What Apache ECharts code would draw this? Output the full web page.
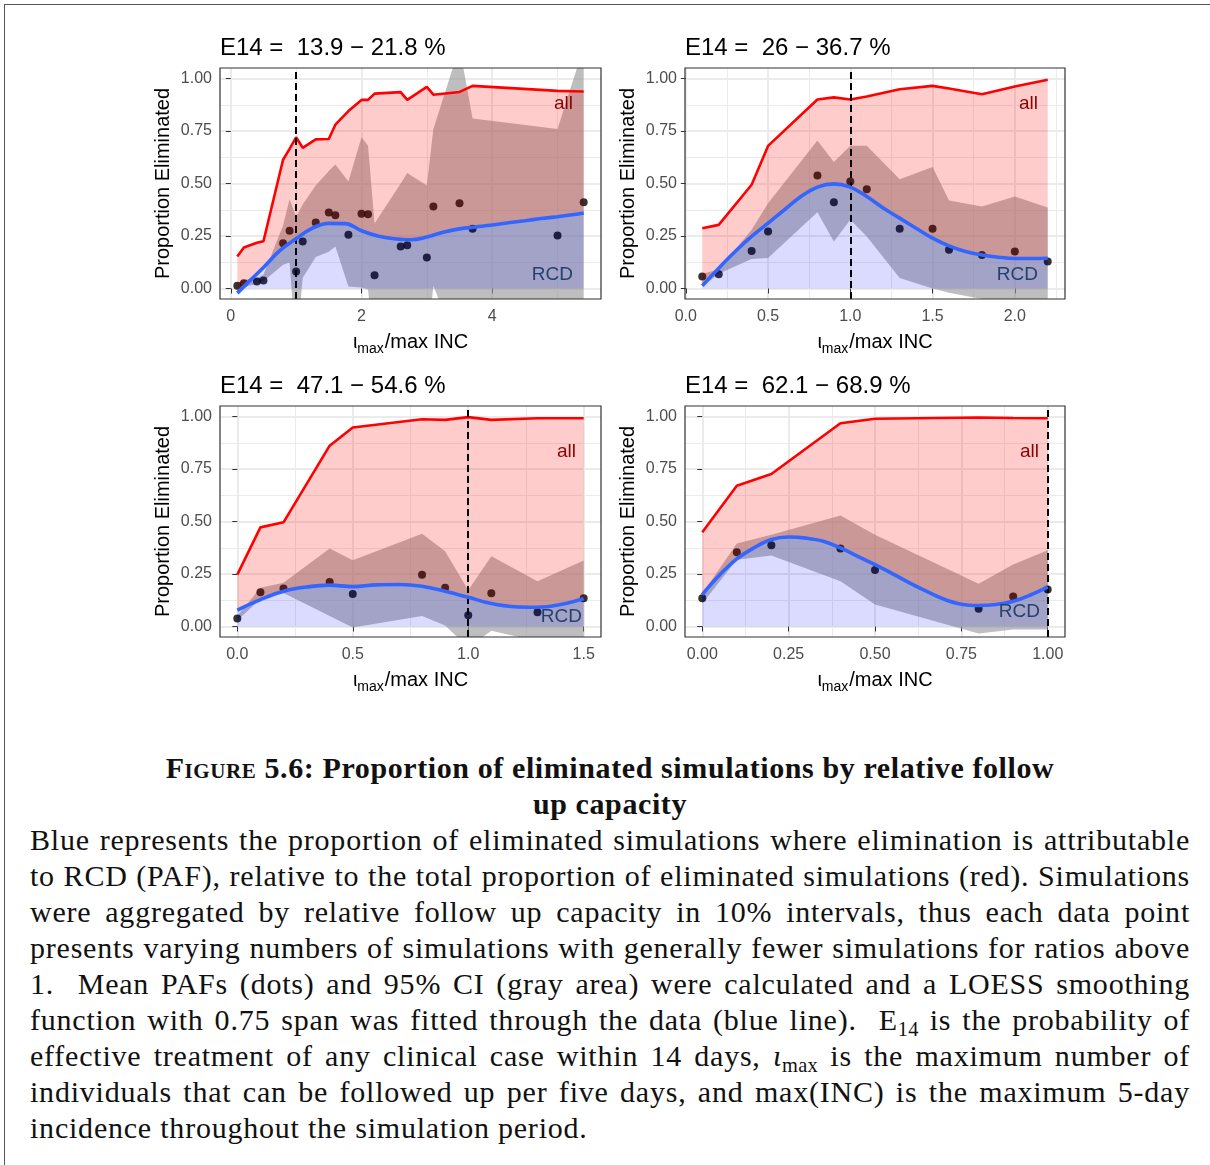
<!DOCTYPE html>
<html>
<head>
<meta charset="utf-8">
<script src="https://cdn.jsdelivr.net/npm/echarts@6/dist/echarts.min.js"></script>
<style>
  html, body { margin: 0; padding: 0; background: #fff; }
  #page { position: relative; width: 1210px; height: 1165px; overflow: hidden; }
  #frame { position: absolute; left: 4px; top: 4px; width: 1300px; height: 1300px;
           border-top: 1.5px solid #555; border-left: 1.5px solid #555; }
  #chart { position: absolute; left: 0; top: 0; width: 1210px; height: 720px; }
  #caption { position: absolute; left: 30px; top: 750px; width: 1160px;
             font-family: "Liberation Serif", "Times New Roman", serif; font-size: 30px;
             line-height: 36px; color: #111; letter-spacing: 0.78px; }
  #caption .ttl { text-align: center; font-weight: bold; letter-spacing: 0.6px; }
  #caption .sc { font-variant: small-caps; }
  #caption .jl { text-align: justify; text-align-last: justify; white-space: nowrap; }
  #caption .ll { text-align: left; white-space: nowrap; }
  #caption sub { font-size: 0.68em; vertical-align: -0.28em; line-height: 0; letter-spacing: 0.3px; }
</style>
</head>
<body>
<div id="page">
  <div id="frame"></div>
  <div id="chart"></div>
  <div id="caption">
    <div class="ttl"><span class="sc">Figure</span> 5.6: Proportion of eliminated simulations by relative follow</div>
    <div class="ttl">up capacity</div>
    <div class="jl">Blue represents the proportion of eliminated simulations where elimination is attributable</div>
    <div class="jl">to RCD (PAF), relative to the total proportion of eliminated simulations (red). Simulations</div>
    <div class="jl">were aggregated by relative follow up capacity in 10% intervals, thus each data point</div>
    <div class="jl">presents varying numbers of simulations with generally fewer simulations for ratios above</div>
    <div class="jl">1.&nbsp; Mean PAFs (dots) and 95% CI (gray area) were calculated and a LOESS smoothing</div>
    <div class="jl">function with 0.75 span was fitted through the data (blue line).&nbsp; E<sub>14</sub> is the probability of</div>
    <div class="jl">effective treatment of any clinical case within 14 days, <i>ι</i><sub>max</sub> is the maximum number of</div>
    <div class="jl">individuals that can be followed up per five days, and max(INC) is the maximum 5-day</div>
    <div class="ll">incidence throughout the simulation period.</div>
  </div>
</div>
<script>
// ---- Panel 1: E14 = 13.9 - 21.8 % ----
const p1Title = 'E14 =  13.9 − 21.8 %';
const p1Ratio = [0.1, 0.2, 0.4, 0.5, 0.8, 0.9, 1.0, 1.1, 1.3, 1.5, 1.6, 1.8, 2.0, 2.1, 2.2, 2.6, 2.7, 3.0, 3.1, 3.5, 3.7, 5.0, 5.4];
const p1All = [0.152, 0.195, 0.218, 0.225, 0.613, 0.665, 0.72, 0.67, 0.71, 0.712, 0.78, 0.845, 0.898, 0.898, 0.928, 0.935, 0.898, 0.96, 0.923, 0.936, 0.965, 0.941, 0.938];
const p1Paf = [0.013, 0.025, 0.033, 0.038, 0.216, 0.275, 0.081, 0.224, 0.314, 0.362, 0.349, 0.256, 0.356, 0.354, 0.063, 0.2, 0.206, 0.148, 0.39, 0.406, 0.284, 0.252, 0.411];
const p1CiLow = [0.0, 0.01, 0.02, 0.035, 0.113, 0.124, -0.3, 0.05, 0.15, 0.175, 0.2, 0.01, 0.005, -0.005, -0.3, -0.3, -0.3, -0.3, 0.013, -0.3, -0.3, -0.3, -0.3];
const p1CiHigh = [0.025, 0.04, 0.05, 0.065, 0.3, 0.425, 0.34, 0.4, 0.49, 0.56, 0.59, 0.51, 0.72, 0.68, 0.31, 0.5, 0.55, 0.49, 0.76, 1.15, 0.81, 0.76, 1.15];
const p1LoessX = [0.1, 0.3, 0.5, 0.75, 1.0, 1.25, 1.5, 1.75, 2.0, 2.25, 2.5, 2.75, 3.0, 3.25, 3.5, 3.75, 4.0, 4.25, 4.5, 4.75, 5.0, 5.25, 5.4];
const p1LoessY = [-0.022, 0.04, 0.1, 0.18, 0.237, 0.288, 0.31, 0.309, 0.275, 0.25, 0.237, 0.232, 0.245, 0.268, 0.284, 0.293, 0.302, 0.313, 0.323, 0.333, 0.342, 0.352, 0.36];
const p1XTicks = [0, 2, 4];

// ---- Panel 2: E14 = 26 - 36.7 % ----
const p2Title = 'E14 =  26 − 36.7 %';
const p2Ratio = [0.1, 0.2, 0.4, 0.5, 0.8, 0.9, 1.0, 1.1, 1.3, 1.5, 1.6, 1.8, 2.0, 2.2];
const p2All = [0.287, 0.303, 0.494, 0.679, 0.9, 0.91, 0.9, 0.914, 0.949, 0.965, 0.952, 0.925, 0.962, 0.994];
const p2Paf = [0.057, 0.068, 0.179, 0.271, 0.538, 0.411, 0.51, 0.473, 0.284, 0.284, 0.184, 0.16, 0.176, 0.129];
const p2CiLow = [0.01, 0.07, 0.14, 0.145, 0.363, 0.224, 0.327, 0.248, 0.05, 0.0, -0.02, -0.05, -0.07, -0.08];
const p2CiHigh = [0.07, 0.09, 0.28, 0.406, 0.705, 0.602, 0.68, 0.68, 0.52, 0.578, 0.419, 0.39, 0.438, 0.386];
const p2LoessX = [0.1, 0.2, 0.3, 0.4, 0.5, 0.6, 0.7, 0.8, 0.9, 1.0, 1.1, 1.2, 1.3, 1.4, 1.5, 1.6, 1.7, 1.8, 1.9, 2.0, 2.1, 2.2];
const p2LoessY = [0.013, 0.097, 0.176, 0.248, 0.311, 0.375, 0.438, 0.483, 0.498, 0.483, 0.438, 0.383, 0.335, 0.287, 0.24, 0.203, 0.176, 0.16, 0.149, 0.143, 0.143, 0.144];
const p2XTicks = [0, 0.5, 1, 1.5, 2];

// ---- Panel 3: E14 = 47.1 - 54.6 % ----
const p3Title = 'E14 =  47.1 − 54.6 %';
const p3Ratio = [0, 0.1, 0.2, 0.4, 0.5, 0.8, 0.9, 1.0, 1.1, 1.3, 1.5];
const p3All = [0.247, 0.472, 0.496, 0.861, 0.948, 0.987, 0.984, 0.997, 0.984, 0.992, 0.992];
const p3Paf = [0.038, 0.163, 0.181, 0.212, 0.155, 0.247, 0.184, 0.054, 0.158, 0.068, 0.135];
const p3CiLow = [0.03, 0.13, 0.16, 0.05, -0.005, 0.05, 0.005, -0.1, -0.02, -0.07, -0.07];
const p3CiHigh = [0.05, 0.184, 0.208, 0.371, 0.315, 0.442, 0.358, 0.173, 0.334, 0.216, 0.314];
const p3LoessX = [0, 0.1, 0.2, 0.3, 0.4, 0.5, 0.6, 0.7, 0.8, 0.9, 1.0, 1.1, 1.2, 1.3, 1.4, 1.5];
const p3LoessY = [0.078, 0.128, 0.168, 0.188, 0.197, 0.19, 0.198, 0.2, 0.192, 0.168, 0.139, 0.109, 0.094, 0.092, 0.105, 0.132];
const p3XTicks = [0, 0.5, 1, 1.5];

// ---- Panel 4: E14 = 62.1 - 68.9 % ----
const p4Title = 'E14 =  62.1 − 68.9 %';
const p4Ratio = [0, 0.1, 0.2, 0.4, 0.5, 0.8, 0.9, 1.0];
const p4All = [0.449, 0.67, 0.726, 0.968, 0.989, 0.995, 0.993, 0.992];
const p4Paf = [0.135, 0.353, 0.387, 0.371, 0.269, 0.084, 0.143, 0.176];
const p4CiLow = [0.11, 0.318, 0.338, 0.216, 0.105, -0.033, -0.014, -0.014];
const p4CiHigh = [0.157, 0.395, 0.437, 0.528, 0.437, 0.203, 0.295, 0.363];
const p4LoessX = [0, 0.05, 0.1, 0.15, 0.2, 0.25, 0.3, 0.35, 0.4, 0.45, 0.5, 0.55, 0.6, 0.65, 0.7, 0.75, 0.8, 0.85, 0.9, 0.95, 1.0];
const p4LoessY = [0.152, 0.245, 0.322, 0.375, 0.414, 0.426, 0.421, 0.406, 0.374, 0.334, 0.295, 0.252, 0.208, 0.167, 0.13, 0.106, 0.1, 0.105, 0.12, 0.15, 0.189];
const p4XTicks = [0, 0.25, 0.5, 0.75, 1];

// shared y ticks and the capacity ratio of 1 (dashed reference)
const yTicks = [0, 0.25, 0.5, 0.75, 1];
const refRatio = 1;

const panels = [
  { title: p1Title, ratio: p1Ratio, all: p1All, paf: p1Paf, lo: p1CiLow, hi: p1CiHigh, lx: p1LoessX, ly: p1LoessY, ticks: p1XTicks, dec: 0,
    box: { left: 220, top: 68, width: 381, height: 231 }, allPos: [573, 104], rcdPos: [573, 275] },
  { title: p2Title, ratio: p2Ratio, all: p2All, paf: p2Paf, lo: p2CiLow, hi: p2CiHigh, lx: p2LoessX, ly: p2LoessY, ticks: p2XTicks, dec: 1,
    box: { left: 685, top: 68, width: 380, height: 231 }, allPos: [1038, 104], rcdPos: [1038, 275] },
  { title: p3Title, ratio: p3Ratio, all: p3All, paf: p3Paf, lo: p3CiLow, hi: p3CiHigh, lx: p3LoessX, ly: p3LoessY, ticks: p3XTicks, dec: 1,
    box: { left: 220, top: 406, width: 381, height: 231 }, allPos: [576, 452], rcdPos: [582, 617] },
  { title: p4Title, ratio: p4Ratio, all: p4All, paf: p4Paf, lo: p4CiLow, hi: p4CiHigh, lx: p4LoessX, ly: p4LoessY, ticks: p4XTicks, dec: 2,
    box: { left: 685, top: 406, width: 380, height: 231 }, allPos: [1039, 452], rcdPos: [1040, 612] }
];

const FONT = '"Liberation Sans", Arial, Helvetica, sans-serif';
const GRID_MAJOR = '#EBEBEB';
const midpoints = (t, lo, hi) => {
  const step = t[1] - t[0];
  const out = [];
  for (let v = t[0] - step / 2; v <= hi + 1e-9; v += step) if (v >= lo - 1e-9) out.push(+v.toFixed(6));
  return out;
};
const zip = (xs, ys) => xs.map((x, i) => [x, ys[i]]);

// filled polygon between an upper polyline and a lower polyline, drawn through the axes' scales
function band(k, topX, topY, botX, botY, fill, z) {
  return {
    type: 'custom', xAxisIndex: 2 * k, yAxisIndex: 2 * k, z, clip: true, silent: true,
    data: [[topX[0], topY[0]]],
    renderItem: (params, api) => {
      const pts = topX.map((x, i) => api.coord([x, topY[i]]));
      for (let i = botX.length - 1; i >= 0; i--) pts.push(api.coord([botX[i], botY[i]]));
      const cs = params.coordSys;
      return {
        type: 'group',
        clipPath: { type: 'rect', shape: { x: cs.x, y: cs.y, width: cs.width, height: cs.height } },
        children: [{ type: 'polygon', shape: { points: pts }, style: { fill: fill } }]
      };
    }
  };
}

const grids = [], xAxes = [], yAxes = [], series = [], titles = [], graphics = [];
const yMin = -0.05, yMax = 1.05;

panels.forEach((p, k) => {
  grids.push(Object.assign({ containLabel: false }, p.box));
  const xr = [Math.min(...p.ratio), Math.max(...p.ratio)];
  const pad = (xr[1] - xr[0]) * 0.05;
  const xMin = xr[0] - pad, xMax = xr[1] + pad;

  xAxes.push({
    gridIndex: k, type: 'value', min: xMin, max: xMax,
    axisLine: { show: false },
    axisTick: { show: true, length: 5, lineStyle: { color: '#333', width: 1 }, customValues: p.ticks },
    axisLabel: { customValues: p.ticks, color: '#4D4D4D', fontSize: 16, fontFamily: FONT, margin: 10,
                 formatter: v => Number(v).toFixed(p.dec) },
    splitLine: { show: true, lineStyle: { color: GRID_MAJOR, width: 2 } },
    name: '{a|ι}{b|max}{a|/max INC}', nameLocation: 'middle', nameGap: 30,
    nameTextStyle: { rich: {
      a: { fontSize: 20, fontFamily: FONT, color: '#000' },
      b: { fontSize: 14, fontFamily: FONT, color: '#000', padding: [13, 1, 0, 0] }
    } }
  });
  xAxes.push({
    gridIndex: k, type: 'value', min: xMin, max: xMax, position: 'bottom',
    axisLine: { show: false },
    axisTick: { show: false, customValues: midpoints(p.ticks, xMin, xMax) },
    axisLabel: { show: false, customValues: midpoints(p.ticks, xMin, xMax) },
    splitLine: { show: true, lineStyle: { color: GRID_MAJOR, width: 1 } }
  });
  yAxes.push({
    gridIndex: k, type: 'value', min: yMin, max: yMax,
    axisLine: { show: false },
    axisTick: { show: true, length: 5, lineStyle: { color: '#333', width: 1 }, customValues: yTicks },
    axisLabel: { customValues: yTicks, color: '#4D4D4D', fontSize: 16, fontFamily: FONT, margin: 8,
                 formatter: v => Number(v).toFixed(2) },
    splitLine: { show: true, lineStyle: { color: GRID_MAJOR, width: 2 } },
    name: 'Proportion Eliminated', nameLocation: 'middle', nameGap: 47,
    nameTextStyle: { fontSize: 20, fontFamily: FONT, color: '#000' }
  });
  yAxes.push({
    gridIndex: k, type: 'value', min: yMin, max: yMax, position: 'left',
    axisLine: { show: false },
    axisTick: { show: false, customValues: midpoints(yTicks, yMin, yMax) },
    axisLabel: { show: false, customValues: midpoints(yTicks, yMin, yMax) },
    splitLine: { show: true, lineStyle: { color: GRID_MAJOR, width: 1 } }
  });

  const xi = 2 * k, yi = 2 * k;
  // 95% CI ribbon
  series.push(band(k, p.ratio, p.hi, p.ratio, p.lo, 'rgba(150,150,150,0.62)', 1));
  // mean PAF dots
  series.push({ type: 'scatter', xAxisIndex: xi, yAxisIndex: yi, z: 2, silent: true,
    symbolSize: 8, itemStyle: { color: '#000' }, data: zip(p.ratio, p.paf) });
  // RCD share: area under the LOESS curve
  series.push({ type: 'line', xAxisIndex: xi, yAxisIndex: yi, z: 3, silent: true, symbol: 'none',
    lineStyle: { width: 0 }, areaStyle: { color: 'rgba(0,0,255,0.2)' }, data: zip(p.lx, p.ly) });
  // remaining eliminations: between the LOESS curve and the total
  series.push(band(k, p.ratio, p.all, p.lx, p.ly, 'rgba(255,0,0,0.2)', 3));
  // total proportion eliminated
  series.push({ type: 'line', xAxisIndex: xi, yAxisIndex: yi, z: 4, silent: true, symbol: 'none',
    lineStyle: { color: '#FF0000', width: 2.6 }, data: zip(p.ratio, p.all) });
  // LOESS fit
  series.push({ type: 'line', xAxisIndex: xi, yAxisIndex: yi, z: 5, silent: true, symbol: 'none', smooth: 0.4,
    lineStyle: { color: '#3366FF', width: 3.6 }, data: zip(p.lx, p.ly),
    markLine: { silent: true, symbol: 'none', label: { show: false },
      lineStyle: { color: '#000', type: [7, 4], width: 2 },
      data: [{ xAxis: refRatio }] } });

  titles.push({ text: p.title, left: p.box.left, top: p.box.top - 32, padding: 0,
    textStyle: { fontSize: 24, fontWeight: 'normal', fontFamily: FONT, color: '#000' } });

  graphics.push({ type: 'text', x: p.allPos[0], y: p.allPos[1], z: 60, silent: true,
    style: { text: 'all', fill: '#8B0000', font: '19px ' + FONT, align: 'right', verticalAlign: 'middle',
             textAlign: 'right', textVerticalAlign: 'middle' } });
  graphics.push({ type: 'text', x: p.rcdPos[0], y: p.rcdPos[1], z: 60, silent: true,
    style: { text: 'RCD', fill: '#26416E', font: '19px ' + FONT, align: 'right', verticalAlign: 'middle',
             textAlign: 'right', textVerticalAlign: 'middle' } });
  // panel border
  graphics.push({ type: 'rect', z: 100, silent: true,
    shape: { x: p.box.left, y: p.box.top, width: p.box.width, height: p.box.height },
    style: { fill: 'none', stroke: '#333', lineWidth: 1.2 } });
});

const chart = echarts.init(document.getElementById('chart'), null, { renderer: 'canvas' });
chart.setOption({
  animation: false,
  backgroundColor: 'transparent',
  textStyle: { fontFamily: FONT },
  title: titles,
  grid: grids,
  xAxis: xAxes,
  yAxis: yAxes,
  series: series,
  graphic: graphics
});
</script>
</body>
</html>
